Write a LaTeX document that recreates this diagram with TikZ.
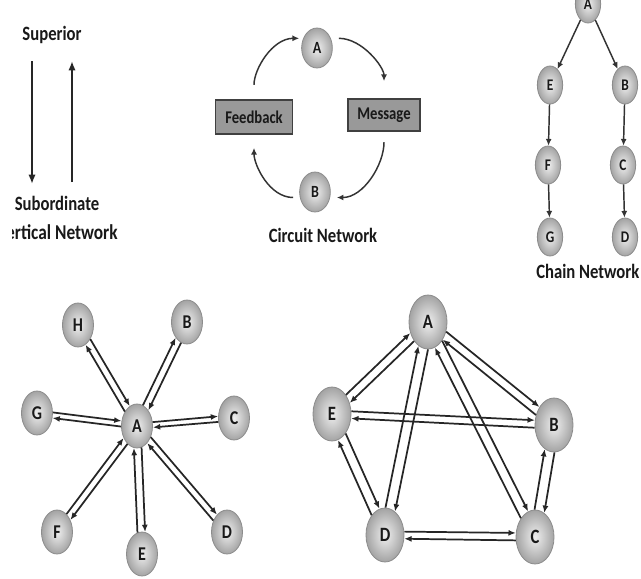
\documentclass[tikz,border=0pt]{standalone}
\usepackage{fontspec}
\setmainfont{Carlito}
\usepackage{graphicx}
\usetikzlibrary{shapes.geometric,arrows.meta,calc}

% letters in this sheet are set slightly tall
\newcommand\tl[1]{\scalebox{1}[1.22]{#1}}

% a pair of opposite links between two nodes; #2 -> #3 runs on its own left side
\newcommand\twoway[3]{%
  \draw[link] let \p1=($(#3)-(#2)$), \n1={atan2(\y1,\x1)+#1}, \n2={atan2(\y1,\x1)+180-#1}
    in (#2.\n1) -- (#3.\n2);
  \draw[link] let \p1=($(#3)-(#2)$), \n1={atan2(\y1,\x1)+180+#1}, \n2={atan2(\y1,\x1)-#1}
    in (#3.\n1) -- (#2.\n2);
}

\begin{document}
\begin{tikzpicture}[x=0.75pt,y=-0.75pt,
  lab/.style={font=\bfseries\fontsize{12.5}{14}\selectfont, text=black!90, inner sep=0pt},
  ball/.style={ellipse, draw=black!45, line width=0.6pt, inner sep=0pt,
    inner color=black!6, outer color=black!36, text=black!90},
  cball/.style={ball, minimum width=23pt, minimum height=30pt, font=\bfseries\fontsize{10.5}{12}\selectfont},
  chball/.style={ball, minimum width=19pt, minimum height=28.5pt, font=\bfseries\fontsize{10}{12}\selectfont},
  sball/.style={ball, minimum width=23.25pt, minimum height=33pt, font=\bfseries\fontsize{12}{14}\selectfont},
  pball/.style={ball, minimum width=28.5pt, minimum height=40.5pt, font=\bfseries\fontsize{12.5}{14}\selectfont},
  box/.style={rectangle, draw=black!75, line width=0.8pt, fill=black!40, inner sep=0pt,
    font=\bfseries\fontsize{11}{13}\selectfont, text=black!90},
  bigarrow/.style={draw=black!85, line width=1.6pt, -{Latex[length=7pt,width=5.5pt]}},
  clink/.style={draw=black!80, line width=1.1pt, -{Latex[length=5pt,width=4.5pt]}},
  link/.style={draw=black!85, line width=1.3pt, -{Latex[length=5.5pt,width=4.5pt]}},
]
\useasboundingbox[fill=white] (0,0) rectangle (641,578);

% ---------- vertical network ----------
\node[lab] (sup) at (52,35) {\tl{Superior}};
\node[lab] (sub) at (57,203) {\tl{Subordinate}};
\begin{scope}
  \clip (12,210) rectangle (200,250);
  \node[lab, font=\bfseries\fontsize{13}{15}\selectfont, anchor=east] (vnet) at (118,232) {\tl{Vertical Network}};
\end{scope}
\coordinate (dtop) at (32,61);
\coordinate (dbot) at (32,184);
\coordinate (ubot) at (72,182);
\coordinate (utop) at (72,61);
\draw[bigarrow] (dtop) -- (dbot);
\draw[bigarrow] (ubot) -- (utop);

% ---------- circuit network ----------
\node[cball] (cA) at (317,48) {\tl{A}};
\node[cball] (cB) at (315,192) {\tl{B}};
\node[box, minimum width=57.75pt, minimum height=25.5pt] (fb) at (254,117) {\tl{Feedback}};
\node[box, minimum width=54pt, minimum height=24pt] (msg) at (384,115) {\tl{Message}};
\node[lab] (cnet) at (323,235) {\tl{Circuit Network}};
\draw[clink, shorten <=11pt, shorten >=3pt] (fb.north) to[out=90,in=180] (cA.145);
\draw[clink, shorten <=6pt, shorten >=13pt] (cA.35) to[out=0,in=90] (msg.north);
\draw[clink, shorten <=8pt, shorten >=5pt] (msg.south) to[out=-90,in=0] (cB.-20);
\draw[clink, shorten <=5pt, shorten >=10pt] (cB.200) to[out=180,in=-90] (fb.south);

% ---------- chain network ----------
\node[chball] (hA) at (588,4) {\raisebox{-5pt}{\tl{A}}};
\node[chball] (hE) at (550,85) {\tl{E}};
\node[chball] (hB) at (625,85) {\tl{B}};
\node[chball] (hF) at (548,165) {\tl{F}};
\node[chball] (hC) at (623,165) {\tl{C}};
\node[chball] (hG) at (550,237) {\tl{G}};
\node[chball] (hD) at (625,237) {\tl{D}};
\node[lab, anchor=west] (hnet) at (536,271) {\tl{Chain Network}};
\draw[clink] (hA) -- (hE);
\draw[clink] (hA) -- (hB);
\draw[clink] (hE) -- (hF);
\draw[clink] (hF) -- (hG);
\draw[clink] (hB) -- (hC);
\draw[clink] (hC) -- (hD);

% ---------- wheel (star) network ----------
\node[sball] (sA) at (137,426) {\tl{A}};
\node[sball] (sH) at (78,325) {\tl{H}};
\node[sball] (sB) at (187,322) {\tl{B}};
\node[sball] (sG) at (37,413) {\tl{G}};
\node[sball] (sC) at (234,418) {\tl{C}};
\node[sball] (sF) at (57,532) {\tl{F}};
\node[sball] (sE) at (142,554) {\tl{E}};
\node[sball] (sD) at (227,532) {\tl{D}};
\twoway{10}{sA}{sC}
\twoway{10}{sA}{sG}
\twoway{10}{sH}{sA}
\twoway{10}{sA}{sB}
\twoway{10}{sF}{sA}
\twoway{10}{sE}{sA}
\twoway{10}{sA}{sD}

% ---------- all-channel network ----------
\node[pball] (pA) at (428,322) {\tl{A}};
\node[pball] (pE) at (332,414) {\tl{E}};
\node[pball] (pB) at (554,425) {\tl{B}};
\node[pball] (pD) at (385,535) {\tl{D}};
\node[pball] (pC) at (535,537) {\tl{C}};
\twoway{11}{pE}{pA}
\twoway{11}{pA}{pB}
\twoway{11}{pE}{pB}
\twoway{11}{pA}{pD}
\twoway{11}{pC}{pA}
\twoway{11}{pE}{pD}
\twoway{11}{pC}{pB}
\twoway{11}{pD}{pC}
\end{tikzpicture}
\end{document}
